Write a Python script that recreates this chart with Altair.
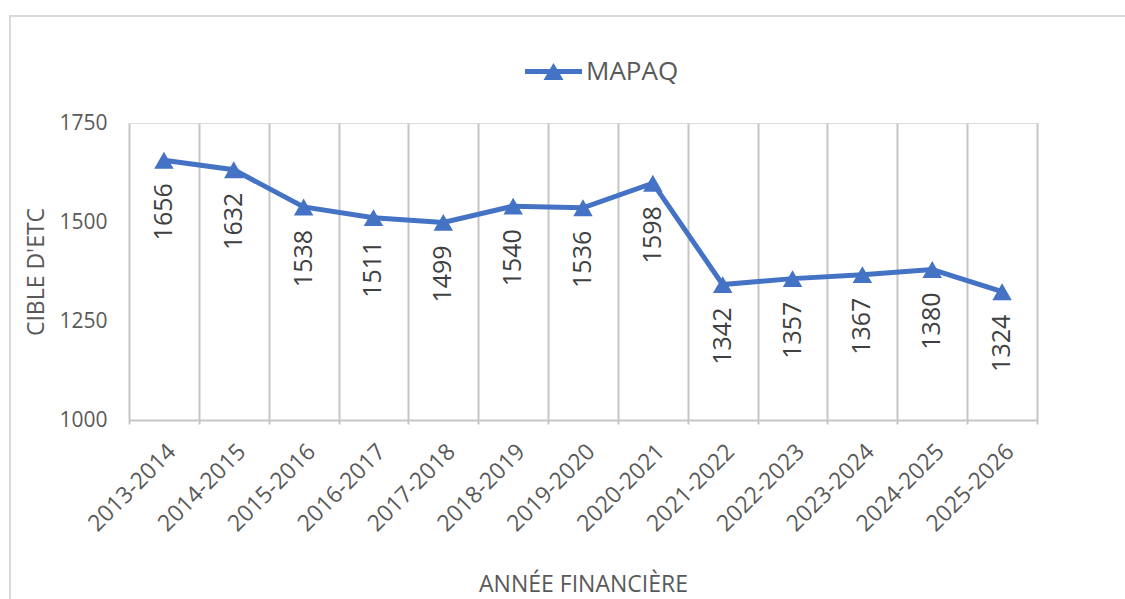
import altair as alt
import pandas as pd

years = ["2013-2014", "2014-2015", "2015-2016", "2016-2017", "2017-2018", "2018-2019",
         "2019-2020", "2020-2021", "2021-2022", "2022-2023", "2023-2024", "2024-2025", "2025-2026"]
values = [1656, 1632, 1538, 1511, 1499, 1540, 1536, 1598, 1342, 1357, 1367, 1380, 1324]
series = ["MAPAQ"] * len(years)

df = pd.DataFrame({"annee": years, "cible": values, "serie": series})

FONT = "Open Sans"
BLUE = "#4472C4"
GREY_TXT = "#595959"
GRID = "#C6C6C6"

x_enc = alt.X("annee:N", sort=years, title="ANNÉE FINANCIÈRE",
              scale=alt.Scale(paddingInner=0, paddingOuter=0),
              axis=alt.Axis(labelAngle=-45, labelFontSize=23, labelColor=GREY_TXT,
                            labelFont=FONT, labelPadding=16, tickBand="extent",
                            grid=True, gridColor=GRID, gridWidth=2, ticks=True,
                            tickSize=4, tickColor=GRID, tickWidth=2,
                            domainColor=GRID, domainWidth=2,
                            titleFont=FONT, titleFontSize=23, titleColor=GREY_TXT,
                            titleFontWeight="normal", titlePadding=38))
y_enc = alt.Y("cible:Q", title="CIBLE D'ETC",
              scale=alt.Scale(domain=[1000, 1750], nice=False, zero=False),
              axis=alt.Axis(values=[1000, 1250, 1500, 1750], format="d", grid=False,
                            domain=False, ticks=False, labelFontSize=21, labelColor=GREY_TXT,
                            labelFont=FONT, labelPadding=22,
                            titleFont=FONT, titleFontSize=23, titleColor=GREY_TXT,
                            titleFontWeight="normal", titlePadding=10))

color_enc = alt.Color("serie:N", title=None,
                      scale=alt.Scale(range=[BLUE]),
                      legend=alt.Legend(orient="none", legendX=396, legendY=-80,
                                        symbolType="M-1,-0.09H1V0.09H-1Z M-0.35,0.3L0,-0.3L0.35,0.3Z",
                                        symbolSize=3249, symbolFillColor=BLUE,
                                        symbolStrokeColor=BLUE, symbolStrokeWidth=0,
                                        labelFont=FONT, labelFontSize=26,
                                        labelColor=GREY_TXT, labelOffset=4, padding=0))

base = alt.Chart(df)

line = base.mark_line(strokeWidth=5).encode(x=x_enc, y=y_enc, color=color_enc)
points = base.mark_point(shape="triangle-up", size=380, filled=True, opacity=1).encode(
    x=alt.X("annee:N", sort=years), y="cible:Q", color=alt.Color("serie:N", legend=None))
labels = base.mark_text(angle=270, align="right", baseline="middle", dx=-23,
                        font=FONT, fontSize=25, color="#404040").encode(
    x=alt.X("annee:N", sort=years), y="cible:Q", text="cible:Q")

border = alt.Chart(alt.Data(values=[{}])).mark_rect(
    fill=None, stroke="#D9D9D9", strokeWidth=2).encode(
    x=alt.value(10 - 129), y=alt.value(16 - 123), x2=alt.value(1200), y2=alt.value(700))

chart = alt.layer(border, line, points, labels).properties(
    width=908, height=297,
    autosize=alt.AutoSizeParams(type="none"),
    padding={"left": 129, "top": 123, "right": 88, "bottom": 179},
).configure_view(stroke=None).configure(background="white")

chart.save("out.html", embed_options={"renderer": "svg", "actions": False})
